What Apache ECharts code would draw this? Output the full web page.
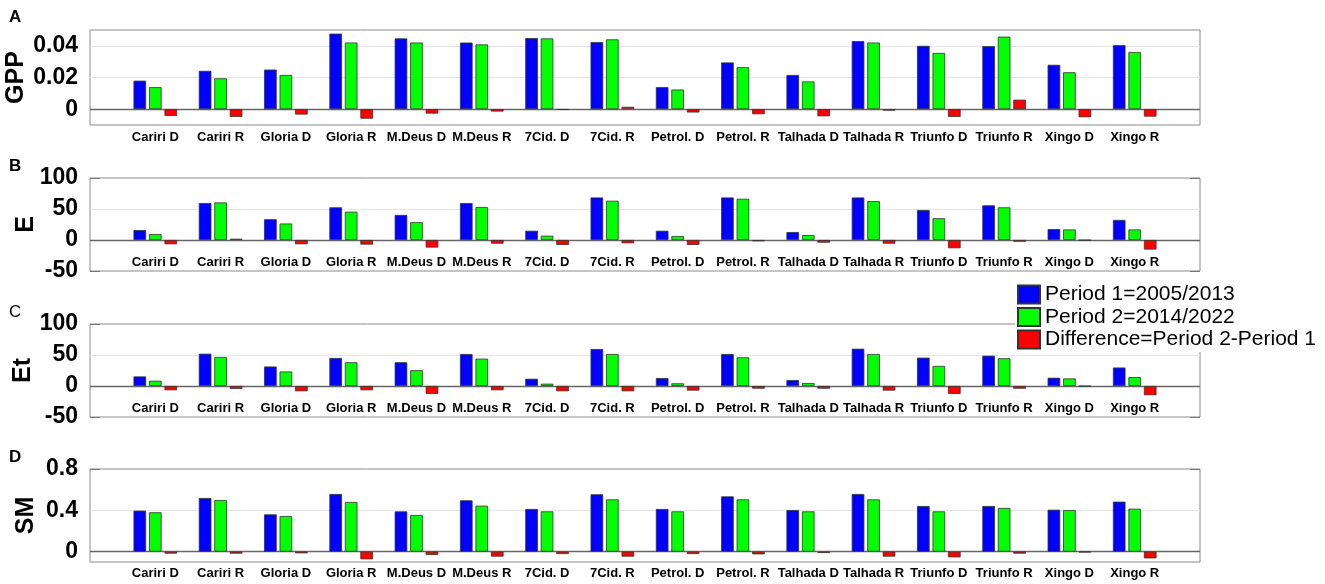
<!DOCTYPE html>
<html>
<head>
<meta charset="utf-8">
<script src="https://cdn.jsdelivr.net/npm/echarts@6/dist/echarts.min.js"></script>
<style>
html,body{margin:0;padding:0;background:#fff;}
#chart{width:1325px;height:584px;}
</style>
</head>
<body>
<div id="chart"></div>
<script>
const categories = ['Cariri D','Cariri R','Gloria D','Gloria R','M.Deus D','M.Deus R','7Cid. D','7Cid. R','Petrol. D','Petrol. R','Talhada D','Talhada R','Triunfo D','Triunfo R','Xingo D','Xingo R'];
const seriesNames = ['Period 1=2005/2013','Period 2=2014/2022','Difference=Period 2-Period 1'];

const gppP1 = [0.018,0.0242,0.025,0.0477,0.0447,0.0421,0.0449,0.0424,0.0139,0.0295,0.0216,0.043,0.040,0.0398,0.028,0.0404];
const gppP2 = [0.0139,0.0195,0.0216,0.0421,0.0421,0.0409,0.0447,0.0441,0.0124,0.0265,0.0175,0.0421,0.0355,0.0458,0.0233,0.0361];
const gppDiff = [-0.0043,-0.0049,-0.0034,-0.006,-0.0028,-0.0015,-0.0004,0.0015,-0.0021,-0.0032,-0.0045,-0.0009,-0.0049,0.006,-0.0051,-0.0047];

const eP1 = [16,59.6,33.5,52.7,40.4,59.6,14.9,68.6,14.9,68.6,12.8,68.6,48.4,55.9,17.6,32.4];
const eP2 = [9.6,60.6,26.6,45.7,28.7,53.2,6.9,63.3,6.4,66.5,8,62.8,35.1,52.7,17,17];
const eDiff = [-6.9,2.1,-6.9,-7.4,-12.2,-5.9,-8,-5.3,-8,-2.1,-4.3,-5.9,-13.3,-2.7,-0.5,-15.4];

const etP1 = [15.4,52.1,31.4,45.2,38.3,51.6,11.7,59.6,12.8,51.6,9.6,60.1,45.7,48.9,13.3,29.8];
const etP2 = [8.5,46.8,23.4,38.3,25.5,44.1,3.7,51.6,4.3,46.3,4.8,51.6,32.4,44.7,12.2,14.4];
const etDiff = [-6.9,-4.8,-8.5,-6.9,-12.8,-6.9,-8.5,-8.5,-7.4,-4.3,-4.3,-7.4,-12.8,-4.3,-0.5,-14.9];

const smP1 = [0.397,0.519,0.361,0.558,0.39,0.497,0.413,0.555,0.413,0.535,0.403,0.558,0.442,0.442,0.406,0.484];
const smP2 = [0.381,0.5,0.345,0.481,0.355,0.445,0.39,0.506,0.39,0.506,0.39,0.506,0.39,0.423,0.403,0.416];
const smDiff = [-0.019,-0.019,-0.016,-0.074,-0.032,-0.048,-0.023,-0.048,-0.023,-0.026,-0.013,-0.048,-0.055,-0.019,-0.006,-0.065];

const gppTicks = [0, 0.02, 0.04];
const eTicks = [-50, 0, 50, 100];
const etTicks = [-50, 0, 50, 100];
const smTicks = [0, 0.4, 0.8];

const panels = [
  {letter:'A', name:'GPP', p1:gppP1, p2:gppP2, diff:gppDiff, ticks:gppTicks, min:-0.01, max:0.05,
   top:30, height:95, nameGap:61, labelMargin:12, letterTop:4, letterWeight:'bold'},
  {letter:'B', name:'E', p1:eP1, p2:eP2, diff:eDiff, ticks:eTicks, min:-50, max:100,
   top:178, height:93, nameGap:51, labelMargin:-9, letterTop:153, letterWeight:'bold'},
  {letter:'C', name:'Et', p1:etP1, p2:etP2, diff:etDiff, ticks:etTicks, min:-50, max:100,
   top:324, height:93, nameGap:54, labelMargin:-9, letterTop:299, letterWeight:'normal'},
  {letter:'D', name:'SM', p1:smP1, p2:smP2, diff:smDiff, ticks:smTicks, min:-0.1, max:0.8,
   top:469, height:93, nameGap:51, labelMargin:11, letterTop:444, letterWeight:'bold'}
];

const colors = ['#0000ff','#00ff00','#ff0000'];
const FONT = 'Liberation Sans, Arial, sans-serif';

const grid = [], xAxis = [], yAxis = [], series = [], title = [];

panels.forEach((p, k) => {
  grid.push({left:90, right:125, top:p.top, height:p.height, show:true, outerBoundsMode:'none',
    containLabel:false, borderColor:'#8a8a8a', borderWidth:1, backgroundColor:'#fff'});
  title.push({text:p.letter, left:4, top:p.letterTop,
    textStyle:{fontSize:17, fontWeight:p.letterWeight, color:'#000', fontFamily:FONT}});
  xAxis.push({type:'value', gridIndex:k, min:0, max:categories.length+1, interval:1,
    axisLine:{show:false}, axisTick:{show:false}, splitLine:{show:false},
    axisLabel:{show:true, margin:p.labelMargin, verticalAlign:'middle',
      fontSize:13, fontWeight:'bold', color:'#000', fontFamily:FONT,
      formatter:(v)=> categories[Math.round(v)-1] || ''}});
  yAxis.push({type:'value', gridIndex:k, min:p.min, max:p.max, position:'left',
    name:p.name, nameLocation:'middle', nameGap:p.nameGap, nameRotate:90, nameMoveOverlap:false,
    nameTextStyle:{fontSize:25, fontWeight:'bold', color:'#000', fontFamily:FONT},
    axisLine:{show:false}, splitLine:{show:false},
    axisTick:{show:true, inside:true, length:10, customValues:p.ticks, lineStyle:{color:'#777'}},
    axisLabel:{show:true, margin:12, customValues:p.ticks, fontSize:23, fontWeight:'bold', color:'#000', fontFamily:FONT}});
  yAxis.push({type:'value', gridIndex:k, min:p.min, max:p.max, position:'right',
    axisLine:{show:false}, splitLine:{show:false}, axisLabel:{show:false},
    axisTick:{show:true, inside:true, length:10, customValues:p.ticks, lineStyle:{color:'#777'}}});

  const gridLines = p.ticks.filter(t => t !== 0 && t > p.min && t < p.max)
    .map(t => ({yAxis:t, lineStyle:{color:'#e6e6e6', width:1, type:'solid'}}));
  gridLines.push({yAxis:0, lineStyle:{color:'#666', width:1.4, type:'solid'}});

  [p.p1, p.p2, p.diff].forEach((arr, s) => {
    const ser = {
      type:'bar', name:seriesNames[s], xAxisIndex:k, yAxisIndex:2*k,
      data: arr.map((v, i) => [i+1, v]),
      barWidth:12.6, barGap:'23%',
      itemStyle:{color:colors[s], borderColor:'#333', borderWidth:0.8},
      emphasis:{disabled:true}, silent:true
    };
    if (s === 0) {
      ser.markLine = {silent:true, symbol:'none', z:1, label:{show:false},
        animation:false, data:gridLines};
    }
    series.push(ser);
  });
});

const chart = echarts.init(document.getElementById('chart'), null, {renderer:'canvas'});
chart.setOption({
  animation:false,
  backgroundColor:'#fff',
  title, grid, xAxis, yAxis, series,
  legend:{
    data:seriesNames, orient:'vertical', left:1015, top:282,
    itemWidth:22, itemHeight:18, itemGap:1.5, padding:[2,0,2,2],
    backgroundColor:'#fff', icon:'rect', selectedMode:false,
    textStyle:{fontSize:21, lineHeight:19, color:'#000', fontFamily:FONT}
  }
});
</script>
</body>
</html>
